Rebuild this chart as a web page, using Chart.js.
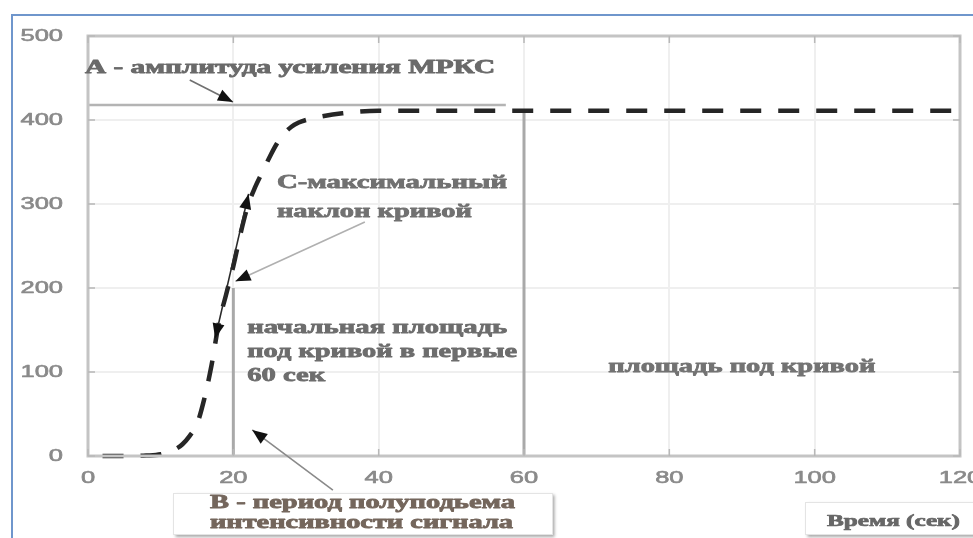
<!DOCTYPE html>
<html lang="ru">
<head>
<meta charset="utf-8">
<title>Кривая накопления МРКС</title>
<script src="https://cdn.jsdelivr.net/npm/chart.js@4.4.1/dist/chart.umd.min.js"></script>
<style>
  html, body { margin: 0; padding: 0; background: #ffffff; overflow: hidden; }
  #wrap { position: relative; width: 973px; height: 538px; }
  #frame {
    position: absolute; left: 11px; top: 14px; right: -4px; bottom: -4px;
    border-top: 2px solid #6f96cc; border-left: 2px solid #6f96cc;
    pointer-events: none;
  }
  canvas { display: block; }
</style>
</head>
<body>
<div id="wrap">
  <canvas id="chart" width="973" height="538"></canvas>
  <div id="frame"></div>
</div>
<script>
// Time axis (s) and signal intensity of the enhancement curve
const timeSec = [2, 6, 8, 10, 12, 13, 14, 15, 16, 17, 18, 19, 20, 21, 22, 23, 24, 25, 26, 27, 28, 29, 30, 32, 35, 40, 50, 60, 80, 100, 120];
const intensity = [0, 0, 0.5, 2, 8, 14, 24, 38, 68, 108, 158, 192, 226, 265, 298, 320, 338, 356, 372, 384, 392, 397, 400, 404, 408, 411, 411, 411, 411, 411, 411];

// Axis ticks
const xTicks = [0, 20, 40, 60, 80, 100, 120];
const yTicks = [0, 100, 200, 300, 400, 500];

// Reference levels
const amplitudeLevel = 418;     // A – enhancement amplitude
const amplitudeEnd = 57.5;
const halfRiseTime = 20;        // B – half-rise time
const halfRiseLevel = 200;
const areaLimit = 60;           // end of the initial-area window
const plateauLevel = 411;

const curvePoints = timeSec.map((t, i) => ({ x: t, y: intensity[i] }));

// Annotation texts (positions in data units of the plot)
const plotNotes = [
  { lines: ['А - амплитуда усиления МРКС'], x: -0.4, y: 456, widths: [410], size: 18, color: '#6a6a6a', lead: 0 },
  { lines: ['С-максимальный', 'наклон кривой'], x: 26.0, y: 319, widths: [230, 195], size: 19, color: '#717171', lead: 28.5 },
  { lines: ['начальная площадь', 'под кривой в первые', '60 сек'], x: 21.9, y: 146.4, widths: [260, 270, 78], size: 19, color: '#6d6d6d', lead: 24 },
  { lines: ['площадь под кривой'], x: 71.6, y: 100, widths: [267], size: 19, color: '#737373', lead: 0 }
];

// Arrows: from → to, in data units
const arrows = [
  { from: [14.0, 447.6], to: [19.95, 421.4], color: '#707070', both: false },
  { from: [38.1, 278.6], to: [20.3, 208], color: '#b0b0b0', both: false },
  { from: [17.5, 140], to: [22.1, 312], color: '#2a2a2a', both: true },
  { from: [33.7, -40.5], to: [22.6, 31], color: '#8a8a8a', both: false }
];

function wideText(ctx, str, x, y, width, font, color, align, weight) {
  ctx.save();
  ctx.font = font;
  ctx.fillStyle = color;
  ctx.strokeStyle = color;
  ctx.textAlign = align || 'left';
  const m = ctx.measureText(str).width;
  const k = width ? width / m : 1.5;
  ctx.translate(x, y);
  ctx.scale(k, 1);
  ctx.fillText(str, 0, 0);
  if (weight) {
    ctx.lineWidth = weight;
    ctx.lineJoin = 'round';
    ctx.strokeText(str, 0, 0);
  }
  ctx.restore();
}

function head(ctx, x1, y1, x2, y2, len, half) {
  const a = Math.atan2(y2 - y1, x2 - x1);
  ctx.beginPath();
  ctx.moveTo(x2, y2);
  ctx.lineTo(x2 - len * Math.cos(a) + half * Math.sin(a), y2 - len * Math.sin(a) - half * Math.cos(a));
  ctx.lineTo(x2 - len * Math.cos(a) - half * Math.sin(a), y2 - len * Math.sin(a) + half * Math.cos(a));
  ctx.closePath();
  ctx.fillStyle = '#111111';
  ctx.fill();
}

const decorations = {
  id: 'decorations',
  afterDatasetsDraw(chart) {
    const { ctx, chartArea: a } = chart;
    const xs = chart.scales.x, ys = chart.scales.y;
    const px = v => xs.getPixelForValue(v);
    const py = v => ys.getPixelForValue(v);
    ctx.save();

    // plot box
    ctx.strokeStyle = '#c4c4c4';
    ctx.lineWidth = 3;
    ctx.strokeRect(a.left, a.top, a.width, a.height);

    // inward ticks on all four sides
    ctx.lineWidth = 1.5;
    ctx.strokeStyle = '#b8b8b8';
    xTicks.forEach(v => {
      const p = px(v);
      ctx.beginPath();
      ctx.moveTo(p, a.bottom); ctx.lineTo(p, a.bottom - 7);
      ctx.moveTo(p, a.top); ctx.lineTo(p, a.top + 7);
      ctx.stroke();
    });
    yTicks.forEach(v => {
      const p = py(v);
      ctx.beginPath();
      ctx.moveTo(a.left, p); ctx.lineTo(a.left + 7, p);
      ctx.moveTo(a.right, p); ctx.lineTo(a.right - 7, p);
      ctx.stroke();
    });

    // tick labels
    ctx.textBaseline = 'middle';
    const tickFont = '17px "Liberation Sans", Arial, sans-serif';
    xTicks.forEach(v => wideText(ctx, String(v), px(v), a.bottom + 22, null, tickFont, '#8a8a8a', 'center', 0.6));
    yTicks.forEach(v => wideText(ctx, String(v), a.left - 25, py(v), null, tickFont, '#8a8a8a', 'right', 0.6));
    ctx.textBaseline = 'alphabetic';

    // arrows
    arrows.forEach(ar => {
      const x1 = px(ar.from[0]), y1 = py(ar.from[1]);
      const x2 = px(ar.to[0]), y2 = py(ar.to[1]);
      ctx.strokeStyle = ar.color;
      ctx.lineWidth = 1.6;
      ctx.beginPath(); ctx.moveTo(x1, y1); ctx.lineTo(x2, y2); ctx.stroke();
      head(ctx, x1, y1, x2, y2, 15, 6);
      if (ar.both) head(ctx, x2, y2, x1, y1, 15, 6);
    });

    // notes inside the plot
    plotNotes.forEach(n => {
      n.lines.forEach((s, i) => {
        wideText(ctx, s, px(n.x), py(n.y) + i * n.lead, n.widths[i],
          'bold ' + n.size + 'px "Liberation Serif", "Times New Roman", serif', n.color, 'left', 0.8);
      });
    });

    // caption boxes under the axis
    const box = (x, y, w, h) => {
      ctx.save();
      ctx.shadowColor = 'rgba(0,0,0,0.35)';
      ctx.shadowBlur = 3;
      ctx.shadowOffsetX = 1.5;
      ctx.shadowOffsetY = 2;
      ctx.fillStyle = '#ffffff';
      ctx.fillRect(x, y, w, h);
      ctx.restore();
      ctx.strokeStyle = '#e4e4e4';
      ctx.lineWidth = 1;
      ctx.strokeRect(x + 0.5, y + 0.5, w - 1, h - 1);
    };
    box(173, 493, 380, 42);
    wideText(ctx, 'В - период полуподьема', 210, 508, 305, 'bold 18px "Liberation Serif", serif', '#74665c', 'left', 0.8);
    wideText(ctx, 'интенсивности сигнала', 210, 528, 303, 'bold 18px "Liberation Serif", serif', '#74665c', 'left', 0.8);
    box(805, 502, 180, 33);
    wideText(ctx, 'Время (сек)', 827, 526, 133, 'bold 16px "Liberation Serif", serif', '#676767', 'left', 0.7);

    ctx.restore();
  }
};

new Chart(document.getElementById('chart'), {
  type: 'line',
  data: {
    datasets: [
      {
        label: 'Интенсивность',
        data: curvePoints,
        borderColor: '#262626',
        borderWidth: 4.5,
        borderDash: [21, 17],
        borderCapStyle: 'butt',
        pointRadius: 0,
        fill: false,
        cubicInterpolationMode: 'monotone',
        order: 0,
        clip: 12
      },
      {
        label: 'A',
        data: [{ x: 0, y: amplitudeLevel }, { x: amplitudeEnd, y: amplitudeLevel }],
        borderColor: '#b4b4b4', borderWidth: 2.5, pointRadius: 0, order: 1
      },
      {
        label: 'B',
        data: [{ x: halfRiseTime, y: 0 }, { x: halfRiseTime, y: halfRiseLevel }],
        borderColor: '#a9a9a9', borderWidth: 3, pointRadius: 0, order: 1
      },
      {
        label: '60 с',
        data: [{ x: areaLimit, y: 0 }, { x: areaLimit, y: plateauLevel }],
        borderColor: '#a9a9a9', borderWidth: 3, pointRadius: 0, order: 1
      }
    ]
  },
  options: {
    responsive: false,
    animation: false,
    devicePixelRatio: 1,
    layout: { padding: { left: 0, top: 36, right: 13, bottom: 0 } },
    plugins: { legend: { display: false }, tooltip: { enabled: false } },
    scales: {
      x: {
        type: 'linear', min: 0, max: 120,
        ticks: { display: false, stepSize: 20 },
        grid: { color: '#efefef', lineWidth: 2, drawTicks: false },
        border: { display: false },
        afterFit: s => { s.height = 82; }
      },
      y: {
        type: 'linear', min: 0, max: 500,
        ticks: { display: false, stepSize: 100 },
        grid: { color: '#efefef', lineWidth: 2, drawTicks: false },
        border: { display: false },
        afterFit: s => { s.width = 88; }
      }
    }
  },
  plugins: [decorations]
});
</script>
</body>
</html>
